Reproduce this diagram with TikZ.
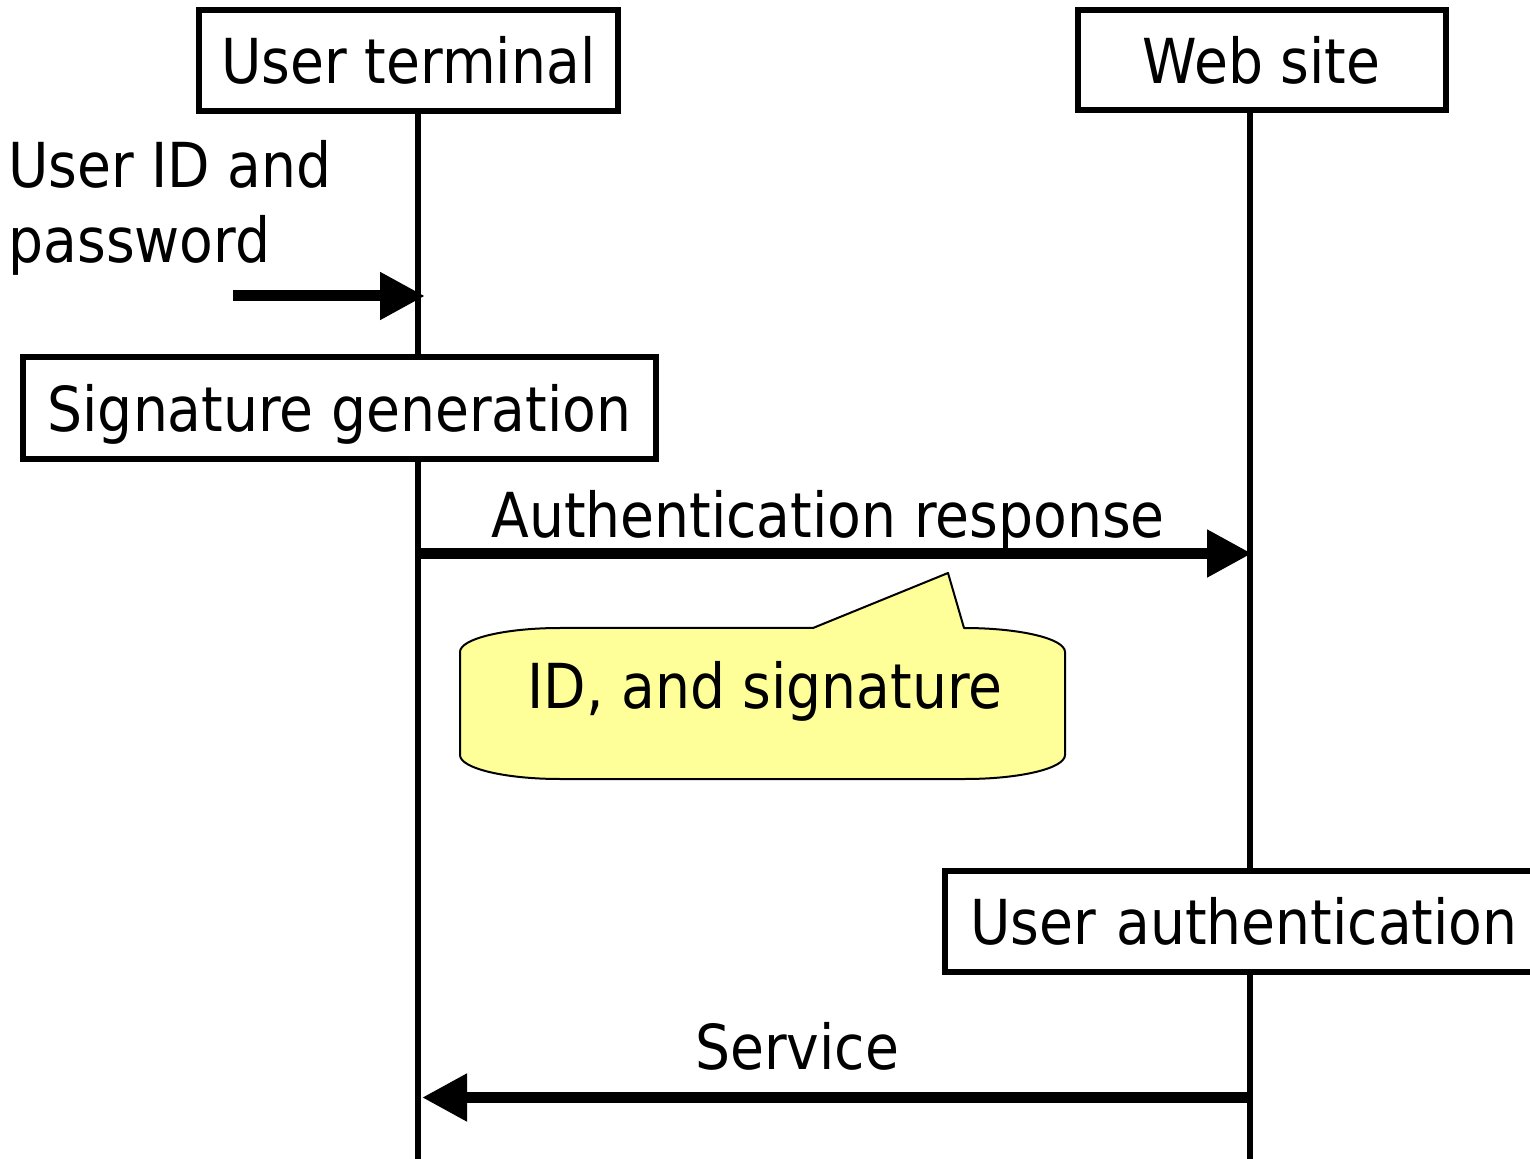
\documentclass[tikz,border=0pt]{standalone}
\usepackage{fontspec}
\setmainfont{DejaVu Sans}[FakeStretch=0.89]
\usetikzlibrary{arrows.meta}
\definecolor{notefill}{HTML}{FFFF99}
\tikzset{
  x=0.5pt, y=-0.5pt,
  every node/.style={inner sep=0pt, font=\fontsize{31}{37.5}\selectfont},
  lbl/.style={anchor=base},
  box/.style={draw=black, line width=3pt, fill=white, text height=23.5pt, text depth=0pt},
  lifeline/.style={line width=2.75pt},
  msg/.style={line width=5.5pt, -{Triangle[length=22.5pt, width=22.5pt]}},
  note/.style={draw=black, line width=1pt, fill=notefill, line join=round},
}
\begin{document}
\begin{tikzpicture}
\useasboundingbox (0,0) rectangle (1530,1159);
\clip (0,0) rectangle (1530,1159);

% lifelines
\coordinate (termtop) at (418,111);
\coordinate (termbot) at (418,1165);
\coordinate (sitetop) at (1250,110);
\coordinate (sitebot) at (1250,1165);
\draw[lifeline] (termtop) -- (termbot);
\draw[lifeline] (sitetop) -- (sitebot);

% participants and actions
\node[box, minimum width=209.5pt, minimum height=50.5pt] (term) at (408.5,60.5) {User terminal};
\node[box, minimum width=184pt, minimum height=50.25pt] (site) at (1261.5,60.25) {Web site};
\node[box, minimum width=316.5pt, minimum height=51.25pt] (sign) at (339.5,408.25) {Signature generation};
\node[box, minimum height=50.75pt, text width=275pt, align=left, inner xsep=12.5pt] (auth) at (1245,921.25) {User authentication};

% user input
\node[anchor=base west] (in1) at (8,188) {User ID and};
\node[anchor=base west] (in2) at (8,263) {password};
\coordinate (inA) at (233,296);
\coordinate (inB) at (425,296);
\draw[msg] (inA) -- (inB);

% authentication response
\coordinate (respA) at (420,553.5);
\coordinate (respB) at (1252,553.5);
\draw[msg] (respA) -- (respB);
\node[lbl] (resplbl) at (828,538) {Authentication response};

% note on the response
\draw[note] (460,652) .. controls (460,638.7) and (504.8,628) .. (560,628)
  -- (813,628) -- (948,573) -- (964,628)
  .. controls (1020.2,628) and (1065,638.7) .. (1065,652)
  -- (1065,755)
  .. controls (1065,768.3) and (1020.2,779) .. (965,779)
  -- (560,779)
  .. controls (504.8,779) and (460,768.3) .. (460,755) -- cycle;
\node[lbl] (notelbl) at (765,708) {ID, and signature};

% service
\coordinate (servA) at (1253,1097.5);
\coordinate (servB) at (422,1097.5);
\draw[msg] (servA) -- (servB);
\node[lbl] (servlbl) at (797,1069) {Service};
\end{tikzpicture}
\end{document}
